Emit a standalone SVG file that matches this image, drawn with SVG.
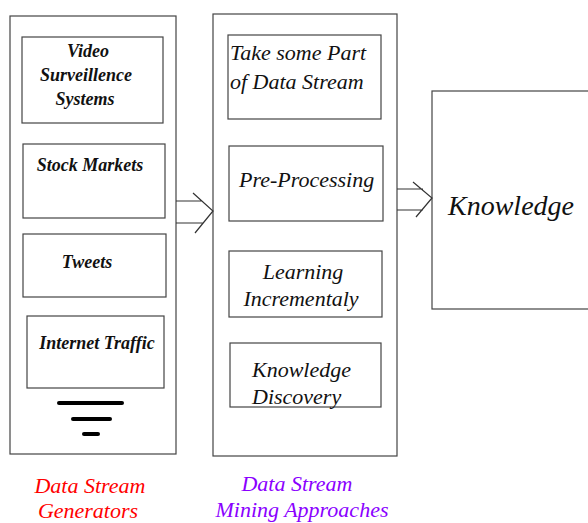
<svg xmlns="http://www.w3.org/2000/svg" width="588" height="523" viewBox="0 0 588 523">
<style>
.box{fill:#fff;stroke:#444;stroke-width:1.2}
.con{fill:none;stroke:#333;stroke-width:1.2}
.gen{font-family:"Liberation Serif",serif;font-weight:bold;font-style:italic;font-size:18px;fill:#111;text-anchor:middle}
.mid{font-family:"Liberation Serif",serif;font-style:italic;font-size:22px;fill:#111}
.cap{font-family:"Liberation Serif",serif;font-style:italic;font-size:22px;text-anchor:middle}
.bar{stroke:#000;stroke-width:4;stroke-linecap:round}
</style>
<rect width="588" height="523" fill="#fff"/>
<g id="generators">
<rect class="box" x="10" y="16" width="166" height="438"/>
<line class="bar" x1="59" y1="403" x2="122" y2="403"/>
<line class="bar" x1="73" y1="419" x2="110" y2="419"/>
<line class="bar" x1="84" y1="434" x2="98" y2="434"/>
</g>
<g id="video">
<rect class="box" x="22" y="37" width="141" height="86"/>
<text class="gen" x="88" y="57">Video</text>
<text class="gen" x="86" y="81">Surveillence</text>
<text class="gen" x="85" y="105">Systems</text>
</g>
<g id="stock">
<rect class="box" x="23" y="144" width="142" height="74"/>
<text class="gen" x="90" y="171">Stock Markets</text>
</g>
<g id="tweets">
<rect class="box" x="23" y="234" width="143" height="63"/>
<text class="gen" x="87" y="268">Tweets</text>
</g>
<g id="internet">
<rect class="box" x="27" y="316" width="137" height="72"/>
<text class="gen" x="97" y="349">Internet Traffic</text>
</g>
<g id="mining">
<rect class="box" x="213" y="14" width="184" height="442"/>
</g>
<g id="take">
<rect class="box" x="228" y="35" width="153" height="84"/>
<text class="mid" x="230" y="60">Take some Part</text>
<text class="mid" x="230" y="89">of Data Stream</text>
</g>
<g id="pre">
<rect class="box" x="229" y="146" width="154" height="75"/>
<text class="mid" x="239" y="187">Pre-Processing</text>
</g>
<g id="learning">
<rect class="box" x="229" y="251" width="153" height="66"/>
<text class="mid" x="303" y="279" text-anchor="middle">Learning</text>
<text class="mid" x="301" y="306" text-anchor="middle">Incrementaly</text>
</g>
<g id="discovery">
<rect class="box" x="230" y="343" width="151" height="64"/>
<text class="mid" x="252" y="377">Knowledge</text>
<text class="mid" x="252" y="404">Discovery</text>
</g>
<g id="knowledge">
<rect class="box" x="432" y="91" width="160" height="218"/>
<text class="mid" x="448" y="215" style="font-size:28px">Knowledge</text>
</g>
<g id="connectors">
<path class="con" d="M176 201H202M176 223H203M193 193L213 211L195 233"/>
<path class="con" d="M397 189H423M397 210H423M413 182L432 198L416 217"/>
</g>
<g id="captions">
<text class="cap" x="90" y="493" fill="#ff0000">Data Stream</text>
<text class="cap" x="88" y="518" fill="#ff0000">Generators</text>
<text class="cap" x="297" y="491" fill="#8a00ff">Data Stream</text>
<text class="cap" x="302" y="517" fill="#8a00ff">Mining Approaches</text>
</g>
</svg>
